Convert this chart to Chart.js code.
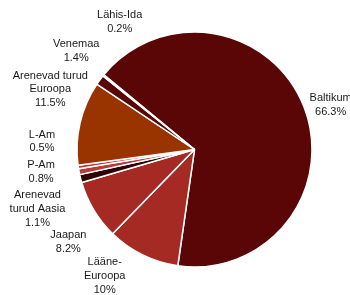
<!DOCTYPE html>
<html>
<head>
<meta charset="utf-8">
<script src="https://cdn.jsdelivr.net/npm/chart.js@4/dist/chart.umd.min.js"></script>
<style>
html,body{margin:0;padding:0;background:#fff;}
#wrap{width:350px;height:295px;position:relative;}
</style>
</head>
<body>
<div id="wrap"><canvas id="c" width="350" height="295"></canvas></div>
<script>
// Data
const categories = [
  ["Baltikum"],
  ["Lääne-", "Euroopa"],
  ["Jaapan"],
  ["Arenevad", "turud Aasia"],
  ["P-Am"],
  ["L-Am"],
  ["Arenevad turud", "Euroopa"],
  ["Venemaa"],
  ["Lähis-Ida"]
];
const shares = [66.3, 10, 8.2, 1.1, 0.8, 0.5, 11.5, 1.4, 0.2];

// Styles
const sliceColors = ["#5a0607", "#a52a24", "#a52a24", "#2e0203", "#b53c3a", "#b53c3a", "#993300", "#5a0607", "#e6bcbc"];
// label placement: angular shift from slice mid-angle (deg) and distance factor of radius
const labelShift = [2.9, 9.2, -5.1, -6.5, 2.5, 11.6, 9.6, 3.5, 20.5];
const labelDist = [1.22, 1.32, 1.33, 1.43, 1.32, 1.30, 1.33, 1.31, 1.26];

const labelPlugin = {
  id: 'outLabels',
  afterDatasetsDraw(chart) {
    const ctx = chart.ctx;
    const meta = chart.getDatasetMeta(0);
    ctx.save();
    ctx.font = '11px "Liberation Sans", Arial, sans-serif';
    ctx.fillStyle = '#1a1a1a';
    ctx.textAlign = 'center';
    ctx.textBaseline = 'middle';
    const lh = 13.8;
    meta.data.forEach((arc, i) => {
      const p = arc.getProps(['x', 'y', 'startAngle', 'endAngle', 'outerRadius'], true);
      const mid = (p.startAngle + p.endAngle) / 2 + labelShift[i] * Math.PI / 180;
      const d = p.outerRadius * labelDist[i];
      const cx = p.x + Math.cos(mid) * d;
      const cy = p.y + Math.sin(mid) * d;
      const lines = categories[i].concat([shares[i] + '%']);
      const y0 = cy - (lines.length - 1) * lh / 2;
      lines.forEach((t, k) => ctx.fillText(t, cx, y0 + k * lh));
    });
    ctx.restore();
  }
};

new Chart(document.getElementById('c'), {
  type: 'pie',
  data: {
    labels: categories.map(c => c.join(' ')),
    datasets: [{
      data: shares,
      backgroundColor: sliceColors,
      borderColor: '#ffffff',
      borderWidth: 1.5
    }]
  },
  options: {
    responsive: false,
    animation: false,
    rotation: -50.5,
    radius: 117.5,
    layout: { padding: { left: 59, right: 20, top: 24, bottom: 20 } },
    plugins: { legend: { display: false }, tooltip: { enabled: false } }
  },
  plugins: [labelPlugin]
});
</script>
</body>
</html>
